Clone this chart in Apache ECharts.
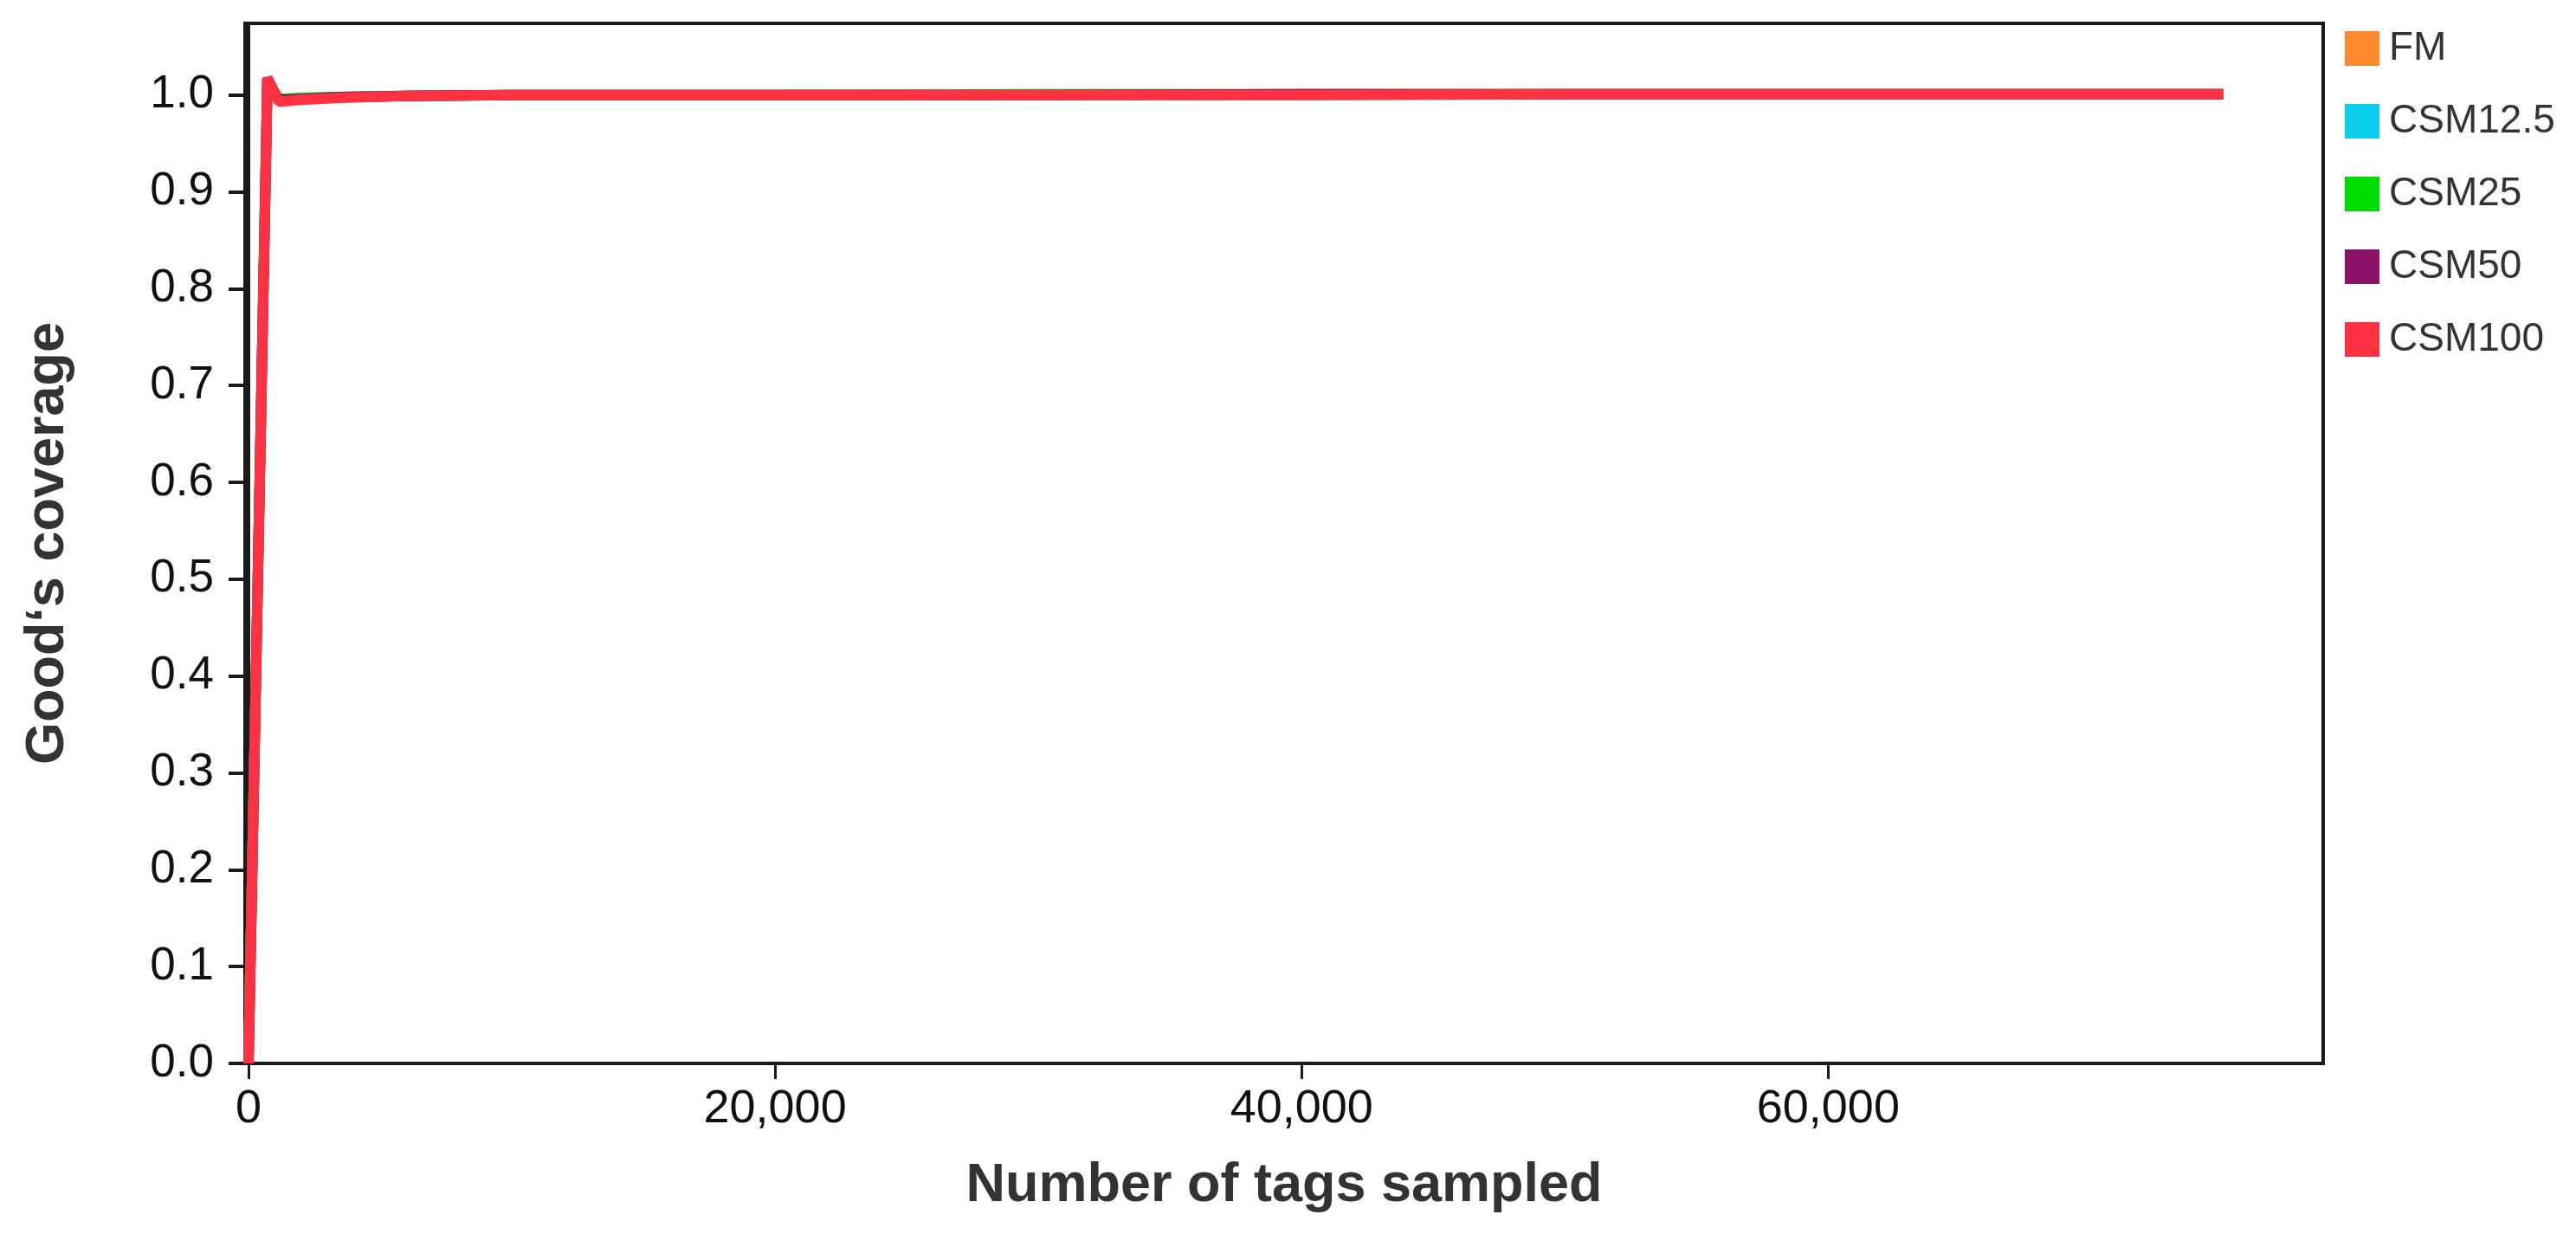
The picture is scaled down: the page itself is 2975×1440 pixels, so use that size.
<!DOCTYPE html>
<html>
<head>
<meta charset="utf-8">
<title>Good's coverage</title>
<script src="https://cdn.jsdelivr.net/npm/echarts@6/dist/echarts.min.js"></script>
<style>
  html, body { margin: 0; padding: 0; background: #fff; }
  #chart { width: 2975px; height: 1440px; }
</style>
</head>
<body>
<div id="chart"></div>
<script>
// number of tags sampled (x)
var tagsSampled = [0, 720, 1150, 2000, 3500, 6000, 10000, 15000, 20000, 30000, 40000, 50000, 60000, 75000];

// Good's coverage per sample
var covFM      = [0, 1.016, 0.995, 0.997, 0.998, 0.999, 1.000, 1.000, 1.000, 1.000, 1.001, 1.001, 1.001, 1.001];
var covCSM12_5 = [0, 1.017, 0.994, 0.996, 0.998, 0.999, 1.000, 1.000, 1.000, 1.000, 1.000, 1.001, 1.001, 1.001];
var covCSM25   = [0, 1.015, 0.996, 0.997, 0.998, 0.999, 1.000, 1.000, 1.000, 1.001, 1.001, 1.001, 1.001, 1.001];
var covCSM50   = [0, 1.016, 0.995, 0.996, 0.998, 0.999, 1.000, 1.000, 1.000, 1.000, 1.001, 1.001, 1.001, 1.001];
var covCSM100  = [0, 1.018, 0.993, 0.995, 0.997, 0.999, 1.000, 1.000, 1.000, 1.000, 1.000, 1.001, 1.001, 1.001];

var seriesNames = ['FM', 'CSM12.5', 'CSM25', 'CSM50', 'CSM100'];
var seriesColors = ['#ff8a2e', '#0ccfee', '#00dc00', '#8a1368', '#ff3143'];
var seriesValues = [covFM, covCSM12_5, covCSM25, covCSM50, covCSM100];

var xTicks = [0, 20000, 40000, 60000];
var yTicks = [0, 0.1, 0.2, 0.3, 0.4, 0.5, 0.6, 0.7, 0.8, 0.9, 1.0];

var FONT = 'Arial, "Liberation Sans", sans-serif';

function pairs(xs, ys) {
    var out = [];
    for (var i = 0; i < xs.length; i++) {
        out.push([xs[i], ys[i]]);
    }
    return out;
}

var chart = echarts.init(document.getElementById('chart'), null, { renderer: 'canvas' });

var series = [];
for (var i = 0; i < seriesNames.length; i++) {
    series.push({
        name: seriesNames[i],
        type: 'line',
        data: pairs(tagsSampled, seriesValues[i]),
        showSymbol: false,
        symbol: 'none',
        smooth: false,
        animation: false,
        lineStyle: { color: seriesColors[i], width: 12, join: 'bevel' },
        itemStyle: { color: seriesColors[i] }
    });
}

var option = {
    backgroundColor: '#ffffff',
    animation: false,
    grid: {
        left: 283,
        right: 292,
        top: 27,
        bottom: 212,
        show: true,
        borderColor: '#1a1a1a',
        borderWidth: 4
    },
    legend: {
        orient: 'vertical',
        left: 2703,
        top: 28,
        icon: 'rect',
        itemWidth: 40,
        itemHeight: 40,
        itemGap: 38,
        textStyle: { fontFamily: FONT, fontSize: 46, color: '#333333', padding: [0, 0, 0, 6] },
        data: seriesNames
    },
    xAxis: {
        type: 'value',
        min: -130,
        max: 78800,
        name: 'Number of tags sampled',
        nameLocation: 'middle',
        nameGap: 110,
        nameTextStyle: { fontFamily: FONT, fontSize: 63, fontWeight: 'bold', color: '#333333' },
        axisLine: { show: true, lineStyle: { color: '#1a1a1a', width: 4 } },
        axisTick: { show: true, customValues: xTicks, length: 18, lineStyle: { color: '#1a1a1a', width: 3 } },
        axisLabel: {
            customValues: xTicks,
            margin: 26,
            fontFamily: FONT,
            fontSize: 54,
            color: '#111111',
            formatter: function (v) { return v.toLocaleString('en-US'); }
        },
        splitLine: { show: false }
    },
    yAxis: {
        type: 'value',
        min: 0,
        max: 1.074,
        name: 'Good\u2018s coverage',
        nameLocation: 'middle',
        nameGap: 196,
        nameTextStyle: { fontFamily: FONT, fontSize: 63, fontWeight: 'bold', color: '#333333' },
        axisLine: { show: true, lineStyle: { color: '#1a1a1a', width: 4 } },
        axisTick: { show: true, customValues: yTicks, length: 23, lineStyle: { color: '#1a1a1a', width: 4 } },
        axisLabel: {
            customValues: yTicks,
            margin: 36,
            fontFamily: FONT,
            fontSize: 53,
            color: '#111111',
            formatter: function (v) { return v.toFixed(1); }
        },
        splitLine: { show: false }
    },
    series: series
};

chart.setOption(option);
</script>
</body>
</html>
